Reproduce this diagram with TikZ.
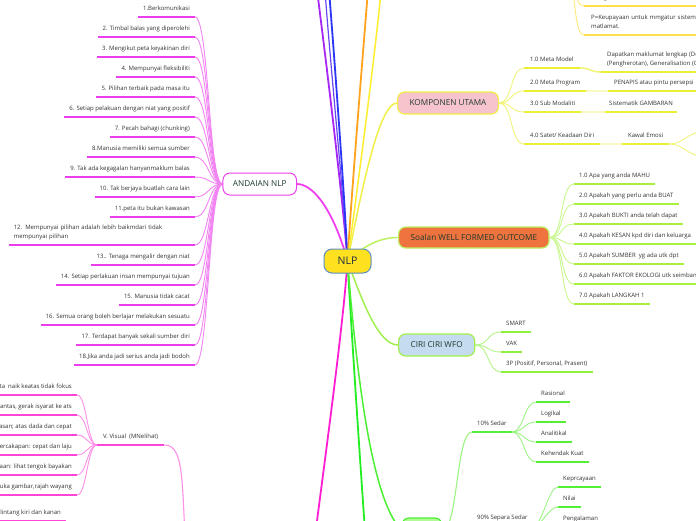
\documentclass[tikz,border=0pt]{standalone}
\usepackage{fontspec}
\setmainfont{Open Sans}
\pgfdeclarelayer{bg}
\pgfsetlayers{bg,main}
\definecolor{txt}{HTML}{333333}
\definecolor{ttlC}{HTML}{1E3A2C}
\definecolor{nlpT}{HTML}{1B2B45}
\definecolor{magU}{HTML}{EC3FEC}
\definecolor{magC}{HTML}{F283F2}
\definecolor{magM}{HTML}{F03FF0}
\definecolor{pinkM}{HTML}{FF1ED2}
\definecolor{pinkU}{HTML}{FF45D8}
\definecolor{pinkC}{HTML}{FF90E8}
\definecolor{purp}{HTML}{A526F5}
\definecolor{blu}{HTML}{2A35F5}
\definecolor{blu2}{HTML}{6A45F5}
\definecolor{orng}{HTML}{FFA31F}
\definecolor{yel}{HTML}{FFEE2E}
\definecolor{yelT}{HTML}{FFE04A}
\definecolor{yelTC}{HTML}{FFE97A}
\definecolor{kY}{HTML}{ECF033}
\definecolor{kYC}{HTML}{F1F57A}
\definecolor{kYP}{HTML}{F8F9C0}
\definecolor{kB}{HTML}{F0F048}
\definecolor{wfoG}{HTML}{A9F03C}
\definecolor{wfoC}{HTML}{C9F78E}
\definecolor{wfoM}{HTML}{BDF263}
\definecolor{ciriG}{HTML}{8DF03F}
\definecolor{ciriC}{HTML}{B5F58A}
\definecolor{ciriM}{HTML}{A2F04E}
\definecolor{sdG}{HTML}{55F035}
\definecolor{sdC}{HTML}{9CF585}
\definecolor{grnM}{HTML}{22EE22}
\definecolor{grnM2}{HTML}{4CF033}
\definecolor{nlpF}{HTML}{FFE11F}
\definecolor{nlpB}{HTML}{5B8EC2}
\definecolor{kompF}{HTML}{F7C4CE}
\definecolor{wfoF}{HTML}{EF733F}
\definecolor{ciriF}{HTML}{C5DCF0}
\definecolor{sdF}{HTML}{B2FA98}
\begin{document}
\begin{tikzpicture}[x=1pt,y=-1pt,
  leaf/.style={font=\fontsize{6}{9.5}\selectfont, text=txt, inner xsep=5pt, inner ysep=4.5pt,
    execute at end node={\rule[-1.5pt]{0pt}{1pt}}},
  lL/.style={leaf, anchor=south east},
  lR/.style={leaf, anchor=south west},
  ttl/.style={rounded corners=7pt, font=\fontsize{8.2}{10}\selectfont, text=ttlC,
    inner xsep=12pt, inner ysep=0pt, minimum height=22pt, line width=1.2pt},
  main/.style={line width=1.8pt},
  ulA/.style={line width=2.6pt, draw=magU},
  cA/.style={line width=0.9pt, draw=magC},
  ulV/.style={line width=2.6pt, draw=pinkU},
  cV/.style={line width=0.9pt, draw=pinkC},
  ulK/.style={line width=2.6pt, draw=kY},
  cK/.style={line width=0.9pt, draw=kYC},
  pK/.style={line width=2.6pt, draw=kYP},
  ulT/.style={line width=2.6pt, draw=yelT},
  cT/.style={line width=0.9pt, draw=yelTC},
  ulW/.style={line width=2.6pt, draw=wfoG},
  cW/.style={line width=0.9pt, draw=wfoC},
  ulC/.style={line width=2.6pt, draw=ciriG},
  cC/.style={line width=0.9pt, draw=ciriC},
  ulS/.style={line width=2.6pt, draw=sdG},
  cS/.style={line width=0.9pt, draw=sdC}
]
\useasboundingbox (0,0) rectangle (696,520);
\begin{pgfonlayer}{bg}
  \fill[white] (0,0) rectangle (696,520);
\end{pgfonlayer}
\clip (0,0) rectangle (696,520);

% ---------- main nodes ----------
\node[rounded corners=8pt, fill=nlpF, draw=nlpB, line width=1pt, minimum width=47pt,
  minimum height=24pt, inner sep=0pt, font=\fontsize{10.5}{12}\selectfont, text=nlpT]
  (nlp) at (347.5,261) {NLP};
\node[ttl, draw=magU, fill=white, line width=1pt, inner xsep=10pt, anchor=east] (andaian) at (297,184) {ANDAIAN NLP};
\node[ttl, draw=kB, fill=kompF, anchor=west] (komp) at (397,103) {KOMPONEN UTAMA};
\node[ttl, draw=wfoM, fill=wfoF, anchor=west, minimum height=21pt] (wfo) at (398,237.5) {Soalan WELL FORMED OUTCOME};
\node[ttl, draw=ciriM, fill=ciriF, anchor=west] (ciri) at (398,345) {CIRI CIRI WFO};
\node[rounded corners=7pt, draw=grnM2, fill=sdF, line width=1.2pt, minimum width=40pt,
  minimum height=24pt] (sdp) at (422,530) {};

% off-page ends
\coordinate (purpE) at (317,-10);
\coordinate (bluE) at (329,-10);
\coordinate (blu2E) at (325,-10);
\coordinate (orE) at (368,-10);
\coordinate (yelE) at (381,-10);
\coordinate (pinkE) at (312,560);
\coordinate (grnE) at (367,560);
\coordinate (vpar) at (186,560);
\coordinate (tpar) at (563,-30);
\coordinate (ke1) at (702,132);
\coordinate (ke2) at (702,156);

\begin{pgfonlayer}{bg}
  \draw[main, purp] (nlp.center) .. controls (343,200) and (326,60) .. (purpE);
  \draw[line width=1.2pt, blu2] (nlp.center) .. controls (344,200) and (329,50) .. (blu2E);
  \draw[main, blu] (nlp.center) .. controls (345,200) and (333,40) .. (bluE);
  \draw[main, orng] (nlp.center) .. controls (351,200) and (364,40) .. (orE);
  \draw[line width=1.5pt, yel] (nlp.center) .. controls (356,200) and (377,40) .. (yelE);
  \draw[line width=1.5pt, kB] (nlp.center) .. controls (360,200) and (378,103) .. (komp.west);
  \draw[line width=1.5pt, wfoM] (nlp.center) .. controls (365,245) and (380,237.5) .. (wfo.west);
  \draw[line width=1.5pt, ciriM] (nlp.center) .. controls (362,300) and (378,345) .. (ciri.west);
  \draw[main, magM] (nlp.center) .. controls (335,215) and (315,184) .. (andaian.east);
  \draw[main, pinkM] (nlp.center) .. controls (343,330) and (322,480) .. (pinkE);
  \draw[main, grnM] (nlp.center) .. controls (352,340) and (360,460) .. (grnE);
  \draw[line width=1.5pt, grnM2] (nlp.center) .. controls (357,380) and (372,500) .. (sdp.west);
\end{pgfonlayer}

% ---------- ANDAIAN NLP ----------
\foreach \n/\y/\t in {1/17/{1.Berkomunikasi}, 2/37/{2. Timbal balas yang diperolehi},
  3/57/{3. Mengikut peta keyakinan diri}, 4/77/{4. Mempunyai fleksibiliti},
  5/97/{5. Pilihan terbaik pada masa itu}, 6/117/{6. Setiap pelakuan dengan niat yang positif},
  7/137/{7. Pecah bahagi (chunking)}, 8/157/{8.Manusia memiliki semua sumber},
  9/177/{9. Tak ada kegagalan hanyanmaklum balas}, 10/197/{10. Tak berjaya buatlah cara lain},
  11/217/{11.peta itu bukan kawasan}, 13/265/{13.. Tenaga mengalir dengan niat},
  14/285/{14. Setiap perlakuan insan mempunyai tujuan}, 15/305/{15. Manusia tidak cacat},
  16/325/{16. Semua orang boleh berlajar melakukan sesuatu},
  17/345/{17. Terdapat banyak sekali sumber diri}, 18/365/{18.Jika anda jadi serius anda jadi bodoh}}{
  \node[lL] (a\n) at (195,\y) {\t};
  \draw[ulA] (a\n.south west) -- (a\n.south east);
  \begin{pgfonlayer}{bg}
    \draw[cA] (andaian.west) .. controls +(-14,0) and +(14,0) .. (a\n.south east);
  \end{pgfonlayer}
}
\node[lL, text width=176pt, align=left] (a12) at (195,245)
  {12. Mempunyai pilihan adalah lebih baikmdari tidak\\mempunyai pilihan};
\draw[ulA] (a12.south west) -- (a12.south east);
\begin{pgfonlayer}{bg}
  \draw[cA] (andaian.west) .. controls +(-14,0) and +(14,0) .. (a12.south east);
\end{pgfonlayer}

% ---------- V. Visual ----------
\node[lR, inner xsep=6pt] (vv) at (97,445) {V. Visual\ \ (MNelihat)};
\draw[ulV] (vv.south west) -- (vv.south east);
\begin{pgfonlayer}{bg}
  \draw[line width=1.1pt, pinkC] (vv.south east) .. controls (184,445) and (182,480) .. (vpar);
\end{pgfonlayer}
\foreach \n/\y/\t in {1/395/{ata\ \ naik keatas tidak fokus}, 2/415/{antas, gerak isyarat ke ats},
  3/435/{asan; atas dada dan cepat}, 4/455/{ercakapan: cepat dan laju},
  5/475/{taan: lihat tengok bayakan}, 6/495/{uka gambar,rajah wayang}}{
  \node[lL] (v\n) at (77,\y) {\t};
  \draw[ulV] (v\n.south west) -- (v\n.south east);
  \begin{pgfonlayer}{bg}
    \draw[cV] (vv.south west) .. controls +(-10,0) and +(10,0) .. (v\n.south east);
  \end{pgfonlayer}
}
\node[lL] (v7) at (66,521) {alintang kiri dan kanan};
\draw[ulV] (v7.south west) -- (v7.south east);

% ---------- top right (yellow) ----------
\node[lR, inner xsep=7pt, text width=120pt, align=left] (ta) at (584,6) {mengatur, memberi makna};
\node[lR, inner xsep=7pt, text width=120pt, align=left] (tb) at (584,35) {P=Keupayaan untuk mmgatur sistem d\\matlamat.};
\draw[ulT] (ta.south west) -- (ta.south east);
\draw[ulT] (tb.south west) -- (tb.south east);
\begin{pgfonlayer}{bg}
  \draw[cT] (tpar) .. controls +(14,0) and +(-12,0) .. (ta.south west);
  \draw[cT] (tpar) .. controls +(14,0) and +(-12,0) .. (tb.south west);
\end{pgfonlayer}

% ---------- KOMPONEN UTAMA ----------
\node[lR, inner xsep=6pt] (mm) at (524,68) {1.0 Meta Model};
\node[lR, inner xsep=6pt] (mp) at (524,91) {2.0 Meta Program};
\node[lR, inner xsep=6pt] (sm) at (524,112) {3.0 Sub Modaliti};
\node[lR, inner xsep=6pt] (sk) at (524,144) {4.0 Satet/ Keadaan Diri};
\node[lR, inner xsep=6pt, align=left] (dap) at (601,72) {Dapatkan maklumat lengkap (De\\(Pengherotan), Generalisation (G};
\node[lR, inner xsep=6pt] (pen) at (608,91) {PENAPIS atau pintu persepsi};
\node[lR, inner xsep=4pt] (sis) at (605,112) {Sistematik GAMBARAN};
\node[lR, inner xsep=6pt] (kaw) at (622,144) {Kawal Emosi};
\foreach \m in {mm,mp,sm,sk,dap,pen,sis,kaw}{
  \draw[ulK] (\m.south west) -- (\m.south east);
}
\begin{pgfonlayer}{bg}
  \foreach \m in {mm,mp,sm,sk}{
    \draw[cK] (komp.east) .. controls +(14,0) and +(-14,0) .. (\m.south west);
  }
  \draw[line width=1.6pt, kYC] (mm.south east) .. controls +(12,0) and +(-12,0) .. (dap.south west);
  \draw[pK] (mp.south east) -- (pen.south west);
  \draw[pK] (sm.south east) -- (sis.south west);
  \draw[pK] (sk.south east) -- (kaw.south west);
  \draw[cK] (kaw.south east) .. controls +(14,0) and +(-14,0) .. (ke1);
  \draw[cK] (kaw.south east) .. controls +(14,0) and +(-14,0) .. (ke2);
\end{pgfonlayer}

% ---------- Soalan WELL FORMED OUTCOME ----------
\foreach \n/\y/\t in {1/184/{1.0 Apa yang anda MAHU}, 2/204/{2.0 Apakah yang perlu anda BUAT},
  3/224/{3.0 Apakah BUKTI anda telah dapat}, 4/244/{4.0 Apakah KESAN kpd diri dan keluarga},
  5/264/{5.0 Apakah SUMBER\ \ yg ada utk dpt}, 6/284/{6.0 Apakah FAKTOR EKOLOGI utk seimbang},
  7/304/{7.0 Apakah LANGKAH 1}}{
  \node[lR] (w\n) at (574,\y) {\t};
  \draw[ulW] (w\n.south west) -- (w\n.south east);
  \begin{pgfonlayer}{bg}
    \draw[cW] (wfo.east) .. controls +(14,0) and +(-14,0) .. (w\n.south west);
  \end{pgfonlayer}
}

% ---------- CIRI CIRI WFO ----------
\foreach \n/\y/\t in {1/332/{SMART}, 2/352/{VAK}, 3/372/{3P (Positif, Personal, Prasent)}}{
  \node[lR] (c\n) at (501,\y) {\t};
  \draw[ulC] (c\n.south west) -- (c\n.south east);
  \begin{pgfonlayer}{bg}
    \draw[cC] (ciri.east) .. controls +(14,0) and +(-14,0) .. (c\n.south west);
  \end{pgfonlayer}
}

% ---------- Sedar ----------
\node[lR] (s10) at (472,432) {10\% Sedar};
\node[lR] (s90) at (472,526) {90\% Separa Sedar};
\draw[ulS] (s10.south west) -- (s10.south east);
\draw[ulS] (s90.south west) -- (s90.south east);
\begin{pgfonlayer}{bg}
  \draw[line width=1.1pt, sdC] (sdp.east) .. controls (458,530) and (456,432) .. (s10.south west);
  \draw[line width=1.1pt, sdC] (sdp.east) .. controls (455,530) and (460,526) .. (s90.south west);
\end{pgfonlayer}
\foreach \n/\y/\t in {1/402/{Rasional}, 2/422/{Logikal}, 3/442/{Analitikal}, 4/462/{Kehendak Kuat}}{
  \node[lR] (r\n) at (536,\y) {\t};
  \draw[ulS] (r\n.south west) -- (r\n.south east);
  \begin{pgfonlayer}{bg}
    \draw[cS] (s10.south east) .. controls +(12,0) and +(-12,0) .. (r\n.south west);
  \end{pgfonlayer}
}
\foreach \n/\y/\t in {1/487/{Keprcayaan}, 2/507/{Nilai}, 3/527/{Pengalaman}}{
  \node[lR] (p\n) at (558,\y) {\t};
  \draw[ulS] (p\n.south west) -- (p\n.south east);
  \begin{pgfonlayer}{bg}
    \draw[cS] (s90.south east) .. controls +(10,0) and +(-10,0) .. (p\n.south west);
  \end{pgfonlayer}
}
\end{tikzpicture}
\end{document}
